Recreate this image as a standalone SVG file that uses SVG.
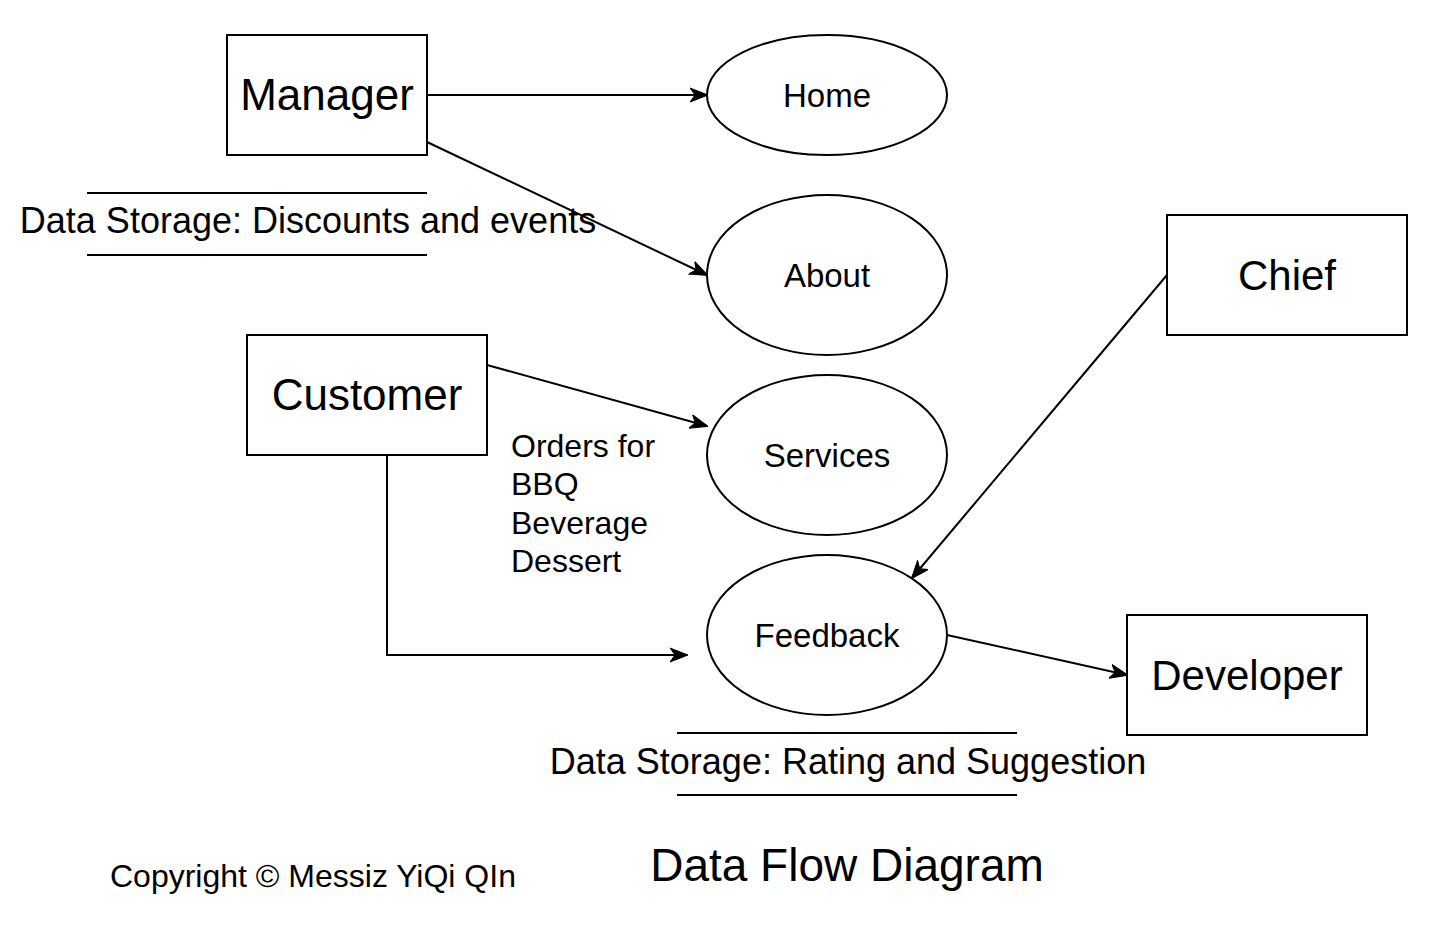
<svg xmlns="http://www.w3.org/2000/svg" width="1446" height="928" viewBox="0 0 1446 928">
<style>
.box{fill:#fff;stroke:#000;stroke-width:2}
.ell{fill:#fff;stroke:#000;stroke-width:2}
.ln{fill:none;stroke:#000;stroke-width:2}
.edge{fill:none;stroke:#000;stroke-width:2;marker-end:url(#arr)}
text{font-family:"Liberation Sans",Arial,Helvetica,sans-serif;fill:#000}
.big{font-size:44px;text-anchor:middle}
.mid{font-size:42px;text-anchor:middle}
.ttl{font-size:46px;text-anchor:middle}
.el{font-size:33px;text-anchor:middle}
.st{font-size:36px;text-anchor:middle}
.sm{font-size:32px}
</style>
<defs>
<marker id="arr" markerUnits="userSpaceOnUse" viewBox="0 0 18 16" refX="17" refY="8" markerWidth="18" markerHeight="16" orient="auto">
<path d="M0,1 L18,8 L0,15 L5,8 z" fill="#000" stroke="#000" stroke-width="1"/>
</marker>
</defs>
<rect width="1446" height="928" fill="#fff"/>
<g id="connectors">
<path class="edge" d="M427,95 L707,95"/>
<path class="edge" d="M427,142 L707,275"/>
<path class="edge" d="M487,365 L707,426"/>
<path class="edge" d="M387,455 L387,655 L687,655"/>
<path class="edge" d="M1167,275 L912,578"/>
<path class="edge" d="M947,635 L1127,675"/>
</g>
<g id="manager"><rect class="box" x="227" y="35" width="200" height="120"/><text class="big" x="327" y="110">Manager</text></g>
<g id="customer"><rect class="box" x="247" y="335" width="240" height="120"/><text class="big" x="367" y="410">Customer</text></g>
<g id="chief"><rect class="box" x="1167" y="215" width="240" height="120"/><text class="mid" x="1287" y="290">Chief</text></g>
<g id="developer"><rect class="box" x="1127" y="615" width="240" height="120"/><text class="mid" x="1247" y="690">Developer</text></g>
<g id="home"><ellipse class="ell" cx="827" cy="95" rx="120" ry="60"/><text class="el" x="827" y="107">Home</text></g>
<g id="about"><ellipse class="ell" cx="827" cy="275" rx="120" ry="80"/><text class="el" x="827" y="287">About</text></g>
<g id="services"><ellipse class="ell" cx="827" cy="455" rx="120" ry="80"/><text class="el" x="827" y="467">Services</text></g>
<g id="feedback"><ellipse class="ell" cx="827" cy="635" rx="120" ry="80"/><text class="el" x="827" y="647">Feedback</text></g>
<g id="storage1"><path class="ln" d="M87,193 L427,193 M87,255 L427,255"/><text class="st" x="308" y="233">Data Storage: Discounts and events</text></g>
<g id="storage2"><path class="ln" d="M677,733 L1017,733 M677,795 L1017,795"/><text class="st" x="848" y="774">Data Storage: Rating and Suggestion</text></g>
<g id="orders"><text class="sm" x="511" y="457">Orders for</text><text class="sm" x="511" y="495">BBQ</text><text class="sm" x="511" y="534">Beverage</text><text class="sm" x="511" y="572">Dessert</text></g>
<g id="title"><text class="ttl" x="847" y="881">Data Flow Diagram</text></g>
<g id="copyright"><text class="sm" x="110" y="887">Copyright © Messiz YiQi QIn</text></g>
</svg>
